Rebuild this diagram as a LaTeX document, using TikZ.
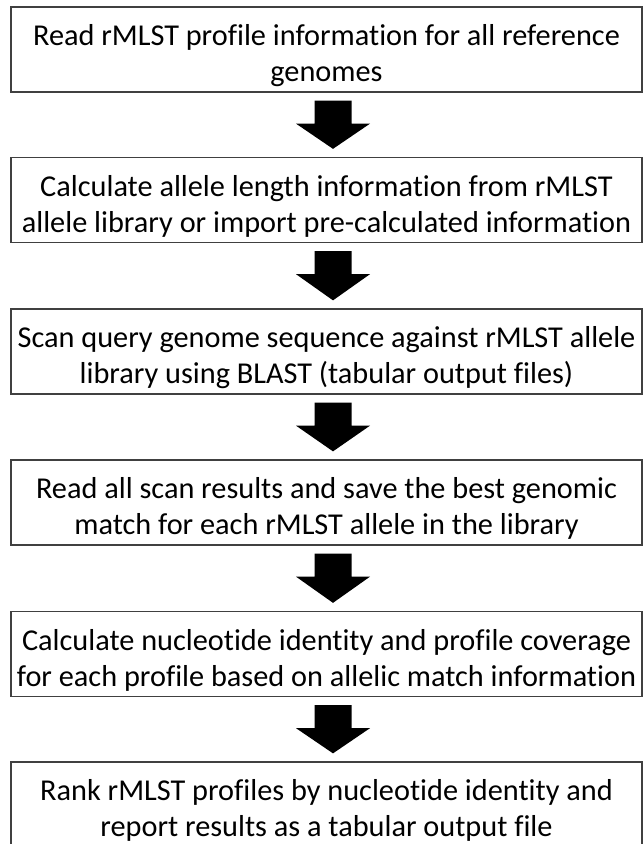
\documentclass[tikz,border=0pt]{standalone}
\usepackage{fontspec}
\setmainfont{Carlito}[Ligatures=NoCommon]
\usetikzlibrary{calc}
\begin{document}
\begin{tikzpicture}[x=1pt,y=-1pt,
  stepbox/.style={draw=black!75, line width=1.3pt, fill=white, minimum width=631pt, minimum height=85pt,
    inner sep=0pt},
  steptext/.style={inner sep=0pt, align=center, text=black, font=\fontsize{30.3}{36}\selectfont},
  blockarrow/.style={fill=black}]
\useasboundingbox (0,0) rectangle (643,844);
\clip (0,0) rectangle (643,844);
\fill[white] (0,0) rectangle (643,844);
\node[stepbox] (b1) at (326.5,49.5) {};
\node[stepbox] (b2) at (326.5,200) {};
\node[stepbox] (b3) at (326.5,351.5) {};
\node[stepbox] (b4) at (326.5,502.5) {};
\node[stepbox] (b5) at (326.5,654) {};
\node[stepbox] (b6) at (326.5,804.5) {};
\node[steptext] (t1) at ($(b1.center)+(0,6)$) {Read rMLST profile information for all reference\\genomes};
\node[steptext] (t2) at ($(b2.center)+(0,6)$) {Calculate allele length information from rMLST\\allele library or import pre-calculated information};
\node[steptext] (t3) at ($(b3.center)+(0,6)$) {Scan query genome sequence against rMLST allele\\library using BLAST (tabular output files)};
\node[steptext] (t4) at ($(b4.center)+(0,6)$) {Read all scan results and save the best genomic\\match for each rMLST allele in the library};
\node[steptext] (t5) at ($(b5.center)+(0,6)$) {Calculate nucleotide identity and profile coverage\\for each profile based on allelic match information};
\node[steptext] (t6) at ($(b6.center)+(0,6)$) {Rank rMLST profiles by nucleotide identity and\\report results as a tabular output file};
\foreach \a/\b in {b1/b2,b2/b3,b3/b4,b4/b5,b5/b6}{
  \fill[blockarrow] ($(\a.south)+(-12,8)$) -- ($(\a.south)+(25,8)$) -- ($(\a.south)+(25,31)$)
    -- ($(\a.south)+(43.5,31)$) -- ($(\b.north)+(6.5,-8)$) -- ($(\a.south)+(-30.5,31)$)
    -- ($(\a.south)+(-12,31)$) -- cycle;
}
\end{tikzpicture}
\end{document}
